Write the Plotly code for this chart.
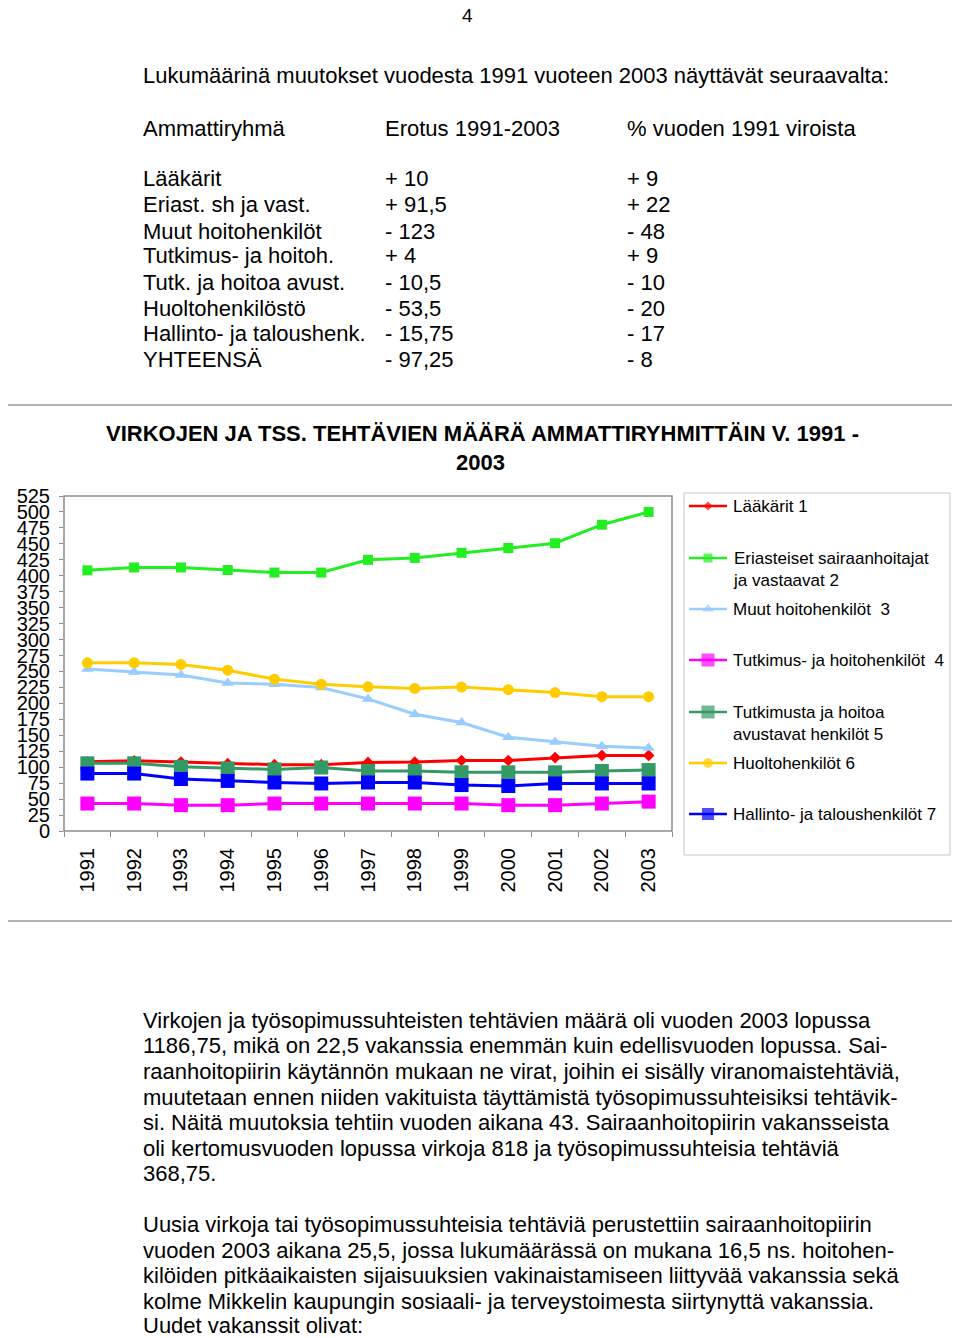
import plotly.graph_objects as go

# page is shown with an 8px body margin; figure starts at (8, 8)
OFF = 8
W, H = 960 - 2 * OFF, 1338 - OFF

years = ["1991", "1992", "1993", "1994", "1995", "1996", "1997",
         "1998", "1999", "2000", "2001", "2002", "2003"]

laakarit = [108.5, 110, 108, 105.5, 104, 104, 107.5, 108, 110.5, 110.5, 115, 118.5, 118.5]
eriasteiset = [408.5, 413, 413, 409, 405, 405, 425, 428, 436, 443.5, 451, 480, 500]
muut_hoito = [254, 249, 244.5, 232, 230, 225, 207, 183, 170, 147, 139.5, 133, 130]
tutkimus_hoito = [43, 43, 40.5, 40.5, 43, 43, 43, 43, 43, 40.5, 40.5, 43, 46]
tutk_avustavat = [106, 106, 100.5, 98, 96.5, 99.5, 94, 94, 92, 92, 92, 94, 95.5]
huolto = [263.5, 263.5, 261, 252, 238, 230, 226, 223.5, 225.5, 221.5, 217, 210.5, 210.5]
hallinto = [90, 90, 81.5, 78.5, 76, 74.5, 76, 76, 72, 70.5, 74.5, 74.5, 74.5]

series_names = ["Lääkärit 1",
                "Eriasteiset sairaanhoitajat<br>ja vastaavat 2",
                "Muut hoitohenkilöt  3",
                "Tutkimus- ja hoitohenkilöt  4",
                "Tutkimusta ja hoitoa<br>avustavat henkilöt 5",
                "Huoltohenkilöt 6",
                "Hallinto- ja taloushenkilöt 7"]
series_values = [laakarit, eriasteiset, muut_hoito, tutkimus_hoito,
                 tutk_avustavat, huolto, hallinto]
series_labels = ["1", "2", "3", "4", "5", "6", "7"]
label_yshift = [-7, -3, -5, -6, -4, -7, -7]

colors = ["#ff0000", "#22ee22", "#99ccff", "#ff00ff", "#339966", "#ffcc00", "#0000ff"]
symbols = ["diamond", "square", "triangle-up", "square", "square", "circle", "square"]
msizes = [9, 10, 11, 14, 14, 11, 14]
leg_msizes = [7, 9, 10, 13, 13, 10, 12]
leg_y = [506, 558, 609, 660, 712, 763, 814]

table_rows = [("Lääkärit", "+ 10", "+ 9"),
              ("Eriast. sh ja vast.", "+ 91,5", "+ 22"),
              ("Muut hoitohenkilöt", "- 123", "- 48"),
              ("Tutkimus- ja hoitoh.", "+ 4", "+ 9"),
              ("Tutk. ja hoitoa avust.", "- 10,5", "- 10"),
              ("Huoltohenkilöstö", "- 53,5", "- 20"),
              ("Hallinto- ja taloushenk.", "- 15,75", "- 17"),
              ("YHTEENSÄ", "- 97,25", "- 8")]

para1 = ["Virkojen ja työsopimussuhteisten tehtävien määrä oli vuoden 2003 lopussa",
         "1186,75, mikä on 22,5 vakanssia enemmän kuin edellisvuoden lopussa. Sai-",
         "raanhoitopiirin käytännön mukaan ne virat, joihin ei sisälly viranomaistehtäviä,",
         "muutetaan ennen niiden vakituista täyttämistä työsopimussuhteisiksi tehtävik-",
         "si. Näitä muutoksia tehtiin vuoden aikana 43. Sairaanhoitopiirin vakansseista",
         "oli kertomusvuoden lopussa virkoja 818 ja työsopimussuhteisia tehtäviä",
         "368,75."]
para2 = ["Uusia virkoja tai työsopimussuhteisia tehtäviä perustettiin sairaanhoitopiirin",
         "vuoden 2003 aikana 25,5, jossa lukumäärässä on mukana 16,5 ns. hoitohen-",
         "kilöiden pitkäaikaisten sijaisuuksien vakinaistamiseen liittyvää vakanssia sekä",
         "kolme Mikkelin kaupungin sosiaali- ja terveystoimesta siirtynyttä vakanssia.",
         "Uudet vakanssit olivat:"]

FONT = "Liberation Sans"
BODY = 22


def px(x):
    return (x - OFF) / W


def py(y):
    return 1 - (y - OFF) / H


fig = go.Figure()

for name, vals, c, s, ms in zip(series_names, series_values, colors, symbols, msizes):
    fig.add_trace(go.Scatter(x=years, y=vals, mode="lines+markers", name=name,
                             line=dict(color=c, width=3),
                             marker=dict(symbol=s, size=ms, color=c, line=dict(width=0)),
                             showlegend=False, xaxis="x", yaxis="y"))

# legend keys drawn on a pixel overlay axis
for vals, c, s, lms, ly in zip(series_values, colors, symbols, leg_msizes, leg_y):
    fig.add_trace(go.Scatter(x=[689, 708, 727], y=[ly, ly, ly], mode="lines+markers",
                             line=dict(color=c, width=2.5),
                             marker=dict(symbol=s, size=[0, lms, 0], color=c, line=dict(width=0)),
                             showlegend=False, hoverinfo="skip",
                             xaxis="x2", yaxis="y2"))

ann = []


def text(x, y, t, size=BODY, bold=False, anchor="left"):
    ann.append(dict(x=px(x), y=py(y), xref="paper", yref="paper", text=("<b>%s</b>" % t) if bold else t,
                    showarrow=False, xanchor=anchor, yanchor="middle",
                    font=dict(family=FONT, size=size, color="black")))


text(467, 15, "4", size=19, anchor="center")
text(141, 76, "Lukumäärinä muutokset vuodesta 1991 vuoteen 2003 näyttävät seuraavalta:")
text(141, 128, "Ammattiryhmä")
text(383, 128, "Erotus 1991-2003")
text(625, 128, "% vuoden 1991 viroista")
row_y = [179, 205, 231, 256, 282, 308, 333, 359]
for (a, b, c), yy in zip(table_rows, row_y):
    text(141, yy, a)
    text(383, yy, b)
    text(625, yy, c)

p1_y = [1020, 1045, 1071, 1097, 1122, 1148, 1173]
for t, yy in zip(para1, p1_y):
    text(141, yy, t)
p2_y = [1224, 1250, 1275, 1301, 1325]
for t, yy in zip(para2, p2_y):
    text(141, yy, t)

# chart title
text(482, 433, "VIRKOJEN JA TSS. TEHTÄVIEN MÄÄRÄ AMMATTIRYHMITTÄIN V. 1991 -", size=22, bold=True, anchor="center")
text(480, 463, "2003", size=22, bold=True, anchor="center")

# legend texts
for name, ly in zip(series_names, leg_y):
    ann.append(dict(x=px(731), y=py(ly - 11), xref="paper", yref="paper", text=name,
                    showarrow=False, xanchor="left", yanchor="top", align="left",
                    font=dict(family=FONT, size=17, color="black")))

# data labels at the end of each series
for lab, vals, ys in zip(series_labels, series_values, label_yshift):
    ann.append(dict(x=years[-1], y=vals[-1], xref="x", yref="y", text="<b>%s</b>" % lab,
                    showarrow=False, xanchor="left", yanchor="middle", xshift=6, yshift=ys,
                    font=dict(family=FONT, size=17, color="black")))

shapes = [
    dict(type="rect", xref="paper", yref="paper", x0=px(2), x1=px(958), y0=py(405), y1=py(921),
         line=dict(color="#9a9a9a", width=1.5), layer="below"),
    dict(type="rect", xref="paper", yref="paper", x0=px(64), x1=px(672), y0=py(496), y1=py(831),
         line=dict(color="#8c8c8c", width=1.5), layer="above"),
    dict(type="rect", xref="paper", yref="paper", x0=px(684), x1=px(950), y0=py(493), y1=py(855),
         line=dict(color="#c8c8c8", width=1), layer="below"),
]

fig.update_layout(
    template="none",
    width=W, height=H, margin=dict(l=0, r=0, t=0, b=0, pad=0, autoexpand=False),
    paper_bgcolor="white", plot_bgcolor="rgba(0,0,0,0)",
    showlegend=False,
    font=dict(family=FONT, color="black"),
    xaxis=dict(domain=[px(64), px(672)], type="category", range=[-0.5, 12.5],
               showgrid=False, zeroline=False, showline=False, automargin=False,
               ticks="outside", ticklen=5, tickcolor="#8c8c8c", tickson="boundaries",
               tickangle=-90, tickfont=dict(family=FONT, size=20, color="black"),
               ticklabelstandoff=12, fixedrange=True),
    yaxis=dict(domain=[py(831), py(496)], range=[0, 525], tickmode="linear", tick0=0, dtick=25,
               showgrid=False, zeroline=False, showline=False, automargin=False,
               ticks="outside", ticklen=4, tickcolor="#8c8c8c",
               tickfont=dict(family=FONT, size=20, color="black"),
               ticklabelstandoff=5, fixedrange=True),
    xaxis2=dict(domain=[0, 1], range=[OFF, OFF + W], visible=False, fixedrange=True, anchor="y2",
                automargin=False),
    yaxis2=dict(domain=[0, 1], range=[OFF + H, OFF], visible=False, fixedrange=True, anchor="x2",
                automargin=False),
    annotations=ann,
    shapes=shapes,
)

fig.write_html("out.html")
